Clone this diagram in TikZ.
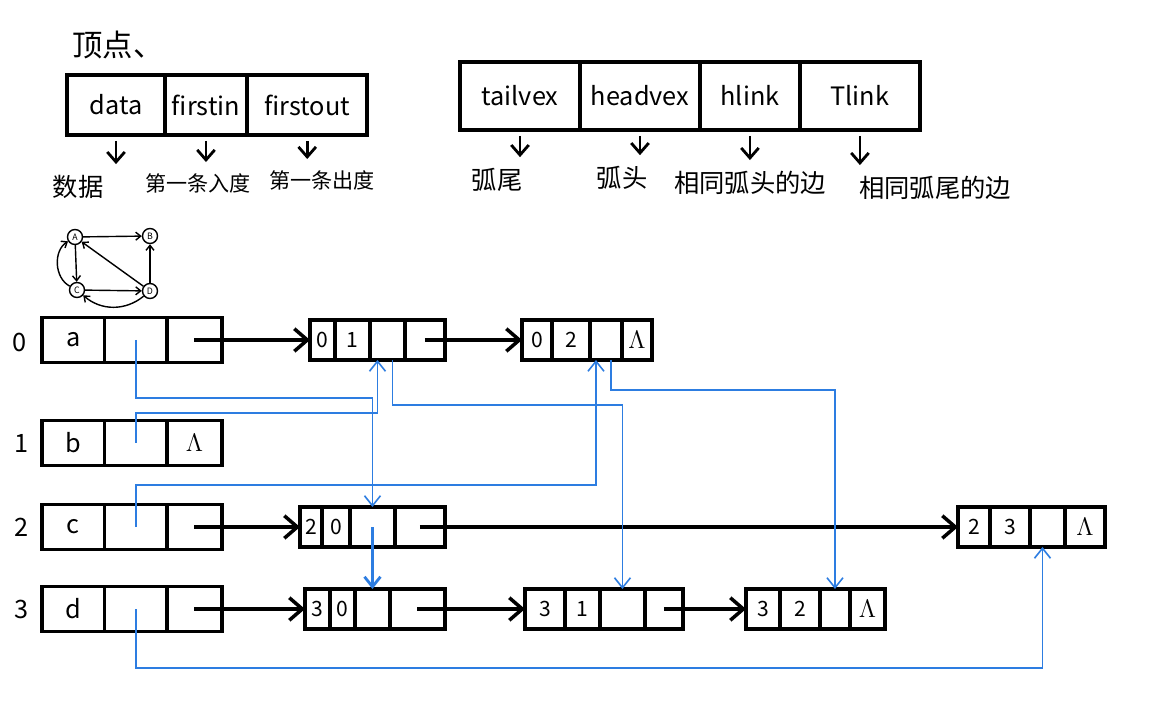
\documentclass[tikz,border=0pt]{standalone}
\usepackage{fontspec}
\setmainfont{Noto Sans CJK SC}
\usepackage{tikz}
\usetikzlibrary{arrows.meta, positioning}
\definecolor{penblue}{RGB}{45,125,225}

\begin{document}
\begin{tikzpicture}[x=0.02cm, y=-0.02cm, node distance=0pt,
    fieldbox/.style={draw, line width=2.2pt, outer sep=0pt, inner sep=0pt, minimum height=1.2cm, font=\Large},
    vcell/.style={draw, line width=2pt, outer sep=0pt, inner sep=0pt, minimum width=1.25cm, minimum height=0.9cm, font=\Large},
    ecell/.style={draw, line width=2pt, outer sep=0pt, inner sep=0pt, minimum width=0.7cm, minimum height=0.8cm, font=\large},
    nil/.style={font=\Large},
    note/.style={font=\Large},
    idx/.style={font=\Large},
    hint/.style={-{Straight Barb[length=2mm, width=3.5mm]}, line width=1.6pt, shorten <=0.12cm, shorten >=0.1cm},
    nxt/.style={-{Straight Barb[length=2.6mm, width=4.5mm]}, line width=2pt},
    lnk/.style={-{Straight Barb[length=2mm, width=3.2mm]}, penblue, line width=0.9pt},
    gv/.style={draw, circle, line width=0.8pt, inner sep=0pt, minimum size=0.3cm, font=\tiny},
    gedge/.style={-{Straight Barb[length=1mm, width=1.6mm]}, line width=0.8pt}]
    \useasboundingbox (0,0) rectangle (1176,705);

    % Vertex record
    \node (title) [note, font=\LARGE] at (118,45) {顶点、};
    \node (hdata) [fieldbox, minimum width=1.95cm] at (116,105) {data};
    \node (hin) [fieldbox, minimum width=1.65cm, right=of hdata] {firstin};
    \node (hout) [fieldbox, minimum width=2.4cm, right=of hin] {firstout};
    \node (ldata) [note] at (78,187) {数据};
    \node (lin) [note, font=\large] at (198,183) {第一条入度};
    \node (lout) [note, font=\large] at (322,180) {第一条出度};
    \draw [hint] (hdata.south) -- (hdata.south |- ldata.north);
    \draw [hint] (hin.south) -- (hin.south |- lin.north);
    \draw [hint] (hout.south) -- (hout.south |- lout.north);

    % Arc record
    \node (htail) [fieldbox, minimum width=2.4cm, minimum height=1.36cm] at (520,96) {tailvex};
    \node (hhead) [fieldbox, minimum width=2.4cm, minimum height=1.36cm, right=of htail] {headvex};
    \node (hhl) [fieldbox, minimum width=2cm, minimum height=1.36cm, right=of hhead] {hlink};
    \node (htl) [fieldbox, minimum width=2.4cm, minimum height=1.36cm, right=of hhl] {Tlink};
    \node (ltail) [note] at (497,180) {弧尾};
    \node (lhead) [note] at (622,178) {弧头};
    \node (lhl) [note] at (750,183) {相同弧头的边};
    \node (ltl) [note] at (935,188) {相同弧尾的边};
    \draw [hint] (htail.south) -- (htail.south |- ltail.north);
    \draw [hint] (hhead.south) -- (hhead.south |- lhead.north);
    \draw [hint] (hhl.south) -- (hhl.south |- lhl.north);
    \draw [hint] (htl.south) -- (htl.south |- ltl.north);

    % Small graph
    \node (gA) [gv] at (75,237) {A};
    \node (gB) [gv] at (150,236) {B};
    \node (gC) [gv] at (77,290) {C};
    \node (gD) [gv] at (150,291) {D};
    \draw [gedge] (gA) -- (gB);
    \draw [gedge] (gA) -- (gC);
    \draw [gedge] (gC) -- (gD);
    \draw [gedge] (gD) -- (gA);
    \draw [gedge] (gD) -- (gB);
    \draw [gedge] (gC) to [bend left=60] (gA);
    \draw [gedge] (gD) to [bend left=40] (gC);

    % Vertex list
    \node (i0) [idx] at (20,342) {0};
    \node (va) [vcell, anchor=west] at (42,340) {a};
    \node (vain) [vcell, right=of va] {};
    \node (vaout) [vcell, minimum width=1.1cm, right=of vain] {};
    \node (i1) [idx] at (22,443) {1};
    \node (vb) [vcell, anchor=west] at (42,443) {b};
    \node (vbin) [vcell, right=of vb] {};
    \node (vbout) [vcell, minimum width=1.1cm, right=of vbin] {$\Lambda$};
    \node (i2) [idx] at (22,527) {2};
    \node (vc) [vcell, anchor=west] at (42,527) {c};
    \node (vcin) [vcell, right=of vc] {};
    \node (vcout) [vcell, minimum width=1.1cm, right=of vcin] {};
    \node (i3) [idx] at (22,609) {3};
    \node (vd) [vcell, anchor=west] at (42,609) {d};
    \node (vdin) [vcell, right=of vd] {};
    \node (vdout) [vcell, minimum width=1.1cm, right=of vdin] {};

    % Arc nodes
    \node (e01tv) [ecell, minimum width=0.5cm, anchor=west] at (310,340) {0};
    \node (e01hv) [ecell, right=of e01tv] {1};
    \node (e01hl) [ecell, right=of e01hv] {};
    \node (e01tl) [ecell, minimum width=0.8cm, right=of e01hl] {};

    \node (e02tv) [ecell, minimum width=0.6cm, anchor=west] at (522,340) {0};
    \node (e02hv) [ecell, minimum width=0.76cm, right=of e02tv] {2};
    \node (e02hl) [ecell, minimum width=0.64cm, right=of e02hv] {};
    \node (e02tl) [ecell, nil, minimum width=0.6cm, right=of e02hl] {$\Lambda$};

    \node (e20tv) [ecell, minimum width=0.44cm, anchor=west] at (300,527) {2};
    \node (e20hv) [ecell, minimum width=0.56cm, right=of e20tv] {0};
    \node (e20hl) [ecell, minimum width=0.9cm, right=of e20hv] {};
    \node (e20tl) [ecell, minimum width=1cm, right=of e20hl] {};

    \node (e23tv) [ecell, minimum width=0.64cm, anchor=west] at (958,527) {2};
    \node (e23hv) [ecell, minimum width=0.8cm, right=of e23tv] {3};
    \node (e23hl) [ecell, right=of e23hv] {};
    \node (e23tl) [ecell, nil, minimum width=0.8cm, right=of e23hl] {$\Lambda$};

    \node (e30tv) [ecell, minimum width=0.5cm, anchor=west] at (305,609) {3};
    \node (e30hv) [ecell, minimum width=0.5cm, right=of e30tv] {0};
    \node (e30hl) [ecell, right=of e30hv] {};
    \node (e30tl) [ecell, minimum width=1.1cm, right=of e30hl] {};

    \node (e31tv) [ecell, minimum width=0.8cm, anchor=west] at (525,609) {3};
    \node (e31hv) [ecell, right=of e31tv] {1};
    \node (e31hl) [ecell, minimum width=0.9cm, right=of e31hv] {};
    \node (e31tl) [ecell, minimum width=0.76cm, right=of e31hl] {};

    \node (e32tv) [ecell, minimum width=0.68cm, anchor=west] at (746,609) {3};
    \node (e32hv) [ecell, minimum width=0.8cm, right=of e32tv] {2};
    \node (e32hl) [ecell, minimum width=0.6cm, right=of e32hv] {};
    \node (e32tl) [ecell, nil, right=of e32hl] {$\Lambda$};

    % Same tail (black)
    \draw [nxt] (vaout.center) -- (e01tv.west);
    \draw [nxt] (e01tl.center) -- (e02tv.west);
    \draw [nxt] (vcout.center) -- (e20tv.west);
    \draw [nxt] (e20tl.center) -- (e23tv.west);
    \draw [nxt] (vdout.center) -- (e30tv.west);
    \draw [nxt] (e30tl.center) -- (e31tv.west);
    \draw [nxt] (e31tl.center) -- (e32tv.west);

    % Same head (blue)
    \draw [lnk] (vain.center) -- ++(0,58) -| (e20hl.north);
    \draw [lnk] (vbin.center) -- ++(0,-30) -| ([xshift=-0.2cm]e01hl.south);
    \draw [lnk] ([xshift=0.1cm]e01hl.south) -- ++(0,45) -| (e31hl.north);
    \draw [lnk] ([xshift=0.1cm]e02hl.south) -- ++(0,30) -| (e32hl.north);
    \draw [lnk] (vcin.center) -- ++(0,-42) -| ([xshift=-0.2cm]e02hl.south);
    \draw [lnk, line width=1.6pt] (e20hl.center) -- (e20hl.center |- e30hl.north);
    \draw [lnk] (vdin.center) -- ++(0,59) -| ([xshift=-0.1cm]e23hl.south);
\end{tikzpicture}
\end{document}
